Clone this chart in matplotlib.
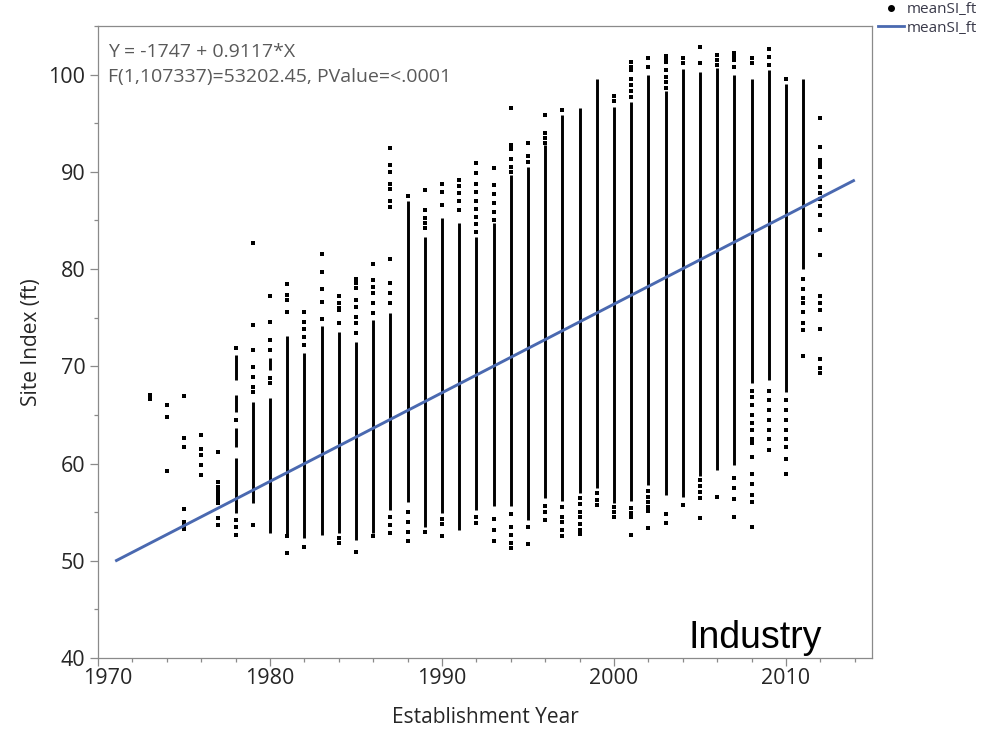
import matplotlib
matplotlib.use("Agg")
import matplotlib.pyplot as plt
from matplotlib.lines import Line2D
import matplotlib.transforms as mtransforms
from matplotlib.ticker import MultipleLocator

# ---------------- data ----------------
# dense runs of points per establishment year (drawn as solid columns)
seg_year = [1978, 1978, 1978, 1978, 1979, 1980, 1980, 1981, 1982, 1983,
            1984, 1985, 1986, 1987, 1988, 1989, 1990, 1991, 1992, 1993,
            1994, 1995, 1996, 1997, 1998, 1999, 2000, 2001, 2002, 2003,
            2004, 2005, 2006, 2007, 2008, 2009, 2010, 2011]
seg_lo = [68.6, 65.3, 61.7, 54.9, 55.9, 69.6, 52.9, 52.7, 52.3, 52.7,
          52.9, 52.1, 52.9, 55.2, 56.0, 53.5, 54.9, 53.2, 55.2, 55.6,
          55.6, 54.2, 56.5, 56.1, 57.0, 57.5, 55.9, 56.1, 57.8, 56.8,
          56.6, 58.7, 59.3, 59.9, 68.3, 68.6, 67.4, 80.0]
seg_hi = [71.2, 67.1, 63.7, 60.6, 66.3, 70.9, 66.7, 73.1, 71.4, 74.1,
          73.5, 72.5, 74.8, 75.5, 87.0, 83.3, 85.3, 84.7, 83.3, 84.7,
          89.7, 90.5, 92.8, 95.8, 96.6, 99.6, 96.7, 97.2, 100.0, 98.3,
          100.6, 100.3, 100.7, 100.0, 99.5, 100.5, 99.0, 99.6]

# isolated points
pt_year = ([1973] * 2 + [1974] * 3 + [1975] * 7 + [1976] * 5 + [1977] * 10 +
           [1978] * 5 + [1979] * 8 + [1980] * 6 + [1981] * 6 + [1982] * 6 +
           [1983] * 5 + [1984] * 7 + [1985] * 9 + [1986] * 7 + [1987] * 14 +
           [1988] * 5 + [1989] * 6 + [1990] * 6 + [1991] * 5 + [1992] * 11 +
           [1993] * 9 + [1994] * 11 + [1995] * 5 + [1996] * 7 + [1997] * 6 +
           [1998] * 7 + [1999] * 3 + [2000] * 5 + [2001] * 11 + [2002] * 8 +
           [2003] * 9 + [2004] * 3 + [2005] * 7 + [2006] * 4 + [2007] * 8 +
           [2008] * 16 + [2009] * 10 + [2010] * 9 + [2011] * 8 + [2012] * 20)
pt_si = [67.0, 66.6,
         66.0, 64.8, 59.2,
         66.9, 62.6, 61.7, 55.3, 54.0, 53.6, 53.3,
         62.9, 61.5, 60.9, 59.8, 58.8,
         61.2, 58.1, 57.6, 57.3, 56.9, 56.6, 56.3, 55.9, 54.4, 53.7,
         71.9, 64.5, 54.2, 53.5, 52.7,
         82.7, 74.2, 71.7, 69.9, 68.9, 67.9, 67.4, 53.7,
         77.2, 74.6, 72.7, 71.7, 68.8, 68.3,
         78.5, 77.3, 76.8, 75.6, 52.5, 50.8,
         75.6, 74.6, 73.8, 73.0, 72.2, 51.4,
         81.5, 79.7, 77.9, 76.6, 74.9,
         77.2, 76.5, 76.0, 75.8, 74.5, 52.3, 51.8,
         79.0, 78.6, 78.1, 76.8, 76.1, 75.1, 74.5, 73.4, 50.9,
         80.5, 78.9, 78.2, 77.5, 76.5, 75.5, 52.5,
         92.5, 90.7, 90.0, 88.7, 88.2, 87.0, 86.4, 81.0, 78.6, 77.5, 76.5,
         54.5, 53.7, 52.9,
         87.5, 55.0, 54.0, 53.0, 52.0,
         88.1, 86.1, 85.3, 84.7, 84.2, 53.0,
         88.7, 87.9, 86.6, 54.3, 53.8, 52.5,
         89.2, 88.5, 87.8, 87.0, 86.1,
         90.9, 89.9, 88.7, 87.9, 87.0, 86.2, 85.4, 84.6, 83.8, 54.5, 53.9,
         90.4, 88.6, 87.7, 86.8, 85.9, 85.0, 54.3, 53.2, 52.0,
         96.6, 92.8, 92.3, 91.3, 90.5, 90.0, 54.8, 53.5, 52.7, 51.8, 51.3,
         93.0, 91.6, 91.0, 53.5, 51.7,
         95.8, 94.0, 93.5, 93.0, 55.6, 55.0, 54.2,
         96.4, 55.5, 54.5, 54.0, 53.2, 52.5,
         56.5, 55.8, 55.0, 54.5, 53.8, 53.2, 52.8,
         57.0, 56.3, 55.7,
         97.8, 97.3, 55.5, 55.0, 54.5,
         101.3, 100.8, 100.5, 99.5, 98.9, 98.3, 97.7, 55.4, 54.9, 54.5, 52.7,
         101.7, 100.8, 57.2, 56.6, 56.0, 55.5, 55.1, 53.4,
         101.9, 101.5, 101.3, 100.5, 99.8, 99.2, 98.6, 54.8, 53.9,
         101.7, 101.2, 55.7,
         102.8, 101.2, 58.3, 57.7, 57.1, 56.5, 54.4,
         102.0, 101.5, 101.0, 56.6,
         102.2, 101.9, 101.5, 100.8, 58.5, 57.5, 56.4, 54.5,
         101.7, 101.2, 67.5, 66.8, 66.0, 65.0, 64.2, 63.5, 62.5, 62.1,
         60.7, 58.9, 57.9, 56.8, 56.0, 53.5,
         102.6, 101.8, 101.0, 67.5, 66.5, 65.5, 64.5, 63.5, 62.5, 61.4,
         99.5, 66.5, 65.5, 64.5, 63.5, 62.5, 61.7, 60.5, 58.9,
         79.0, 78.0, 77.0, 76.5, 75.6, 74.5, 73.7, 71.1,
         95.5, 92.6, 91.2, 90.8, 90.5, 89.5, 88.4, 87.8, 87.2, 86.5,
         85.6, 84.0, 81.4, 77.2, 76.5, 75.8, 73.8, 70.8, 69.8, 69.3]

# fitted line end points (Y = -1747 + 0.9117*X)
fit_year = [1971, 2014]
fit_si = [49.96, 89.16]

x_ticks = [1970, 1980, 1990, 2000, 2010]
y_ticks = [40, 50, 60, 70, 80, 90, 100]

eq_text = "Y = -1747 + 0.9117*X"
stat_text = "F(1,107337)=53202.45, PValue=<.0001"
legend_labels = ["meanSI_ft", "meanSI_ft"]
x_label = "Establishment Year"
y_label = "Site Index (ft)"
panel_label = "Industry"

# ---------------- figure ----------------
BLUE = "#4a69b0"
SPINE = "#8a8a8a"
FONT = ["Open Sans", "DejaVu Sans"]

fig = plt.figure(figsize=(9.84, 7.29), dpi=100)
W, H = 984, 729
ax = fig.add_axes([98 / W, 1 - 658 / H, (872 - 98) / W, (658 - 26) / H])
ax.set_xlim(1970, 2015)
ax.set_ylim(40, 105)

ax.vlines(seg_year, seg_lo, seg_hi, colors="black", linewidth=2.1, zorder=2)
ax.scatter(pt_year, pt_si, s=5, marker="s", color="black", linewidths=0, zorder=2)
ax.plot(fit_year, fit_si, color=BLUE, linewidth=2.1, zorder=3, solid_capstyle="butt")

for sp in ax.spines.values():
    sp.set_color(SPINE)
    sp.set_linewidth(0.9)

ax.set_xticks(x_ticks)
ax.set_yticks(y_ticks)
ax.xaxis.set_minor_locator(MultipleLocator(2))
ax.yaxis.set_minor_locator(MultipleLocator(5))
ax.tick_params(which="major", length=5.5, width=0.9, color=SPINE,
               labelsize=15.5, labelcolor="#262626")
ax.tick_params(which="minor", length=2.8, width=0.9, color=SPINE)
ax.tick_params(axis="x", which="major", pad=2)
ax.tick_params(axis="y", which="major", pad=3.5)
for lab in ax.get_xticklabels() + ax.get_yticklabels():
    lab.set_family(FONT)

# first x label is nudged right in the reference
first = ax.xaxis.get_major_ticks()[0].label1
first.set_transform(first.get_transform() +
                    mtransforms.ScaledTranslation(10 / 100, 0, fig.dpi_scale_trans))

ax.set_xlabel(x_label, fontsize=15, color="#262626", family=FONT, va="baseline")
ax.xaxis.set_label_coords(0.5, (658 - 723) / (658 - 26))
ax.set_ylabel(y_label, fontsize=15, color="#262626", family=FONT, va="center")
ax.yaxis.set_label_coords((32 - 98) / (872 - 98), 0.5)

ax.text((108 - 98) / 774, (658 - 57) / 632, eq_text, transform=ax.transAxes,
        fontsize=14, color="#595959", family=FONT, va="baseline", ha="left")
ax.text((108 - 98) / 774, (658 - 82) / 632, stat_text, transform=ax.transAxes,
        fontsize=14, color="#595959", family=FONT, va="baseline", ha="left")

ax.text((822 - 98) / 774, (658 - 648) / 632, panel_label, transform=ax.transAxes,
        fontsize=27, color="black", family=["Liberation Sans", "DejaVu Sans"],
        va="baseline", ha="right")

h1 = Line2D([], [], marker="o", color="black", linestyle="none", markersize=4)
h2 = Line2D([], [], color=BLUE, linewidth=2)
leg = fig.legend([h1, h2], legend_labels, loc="upper left",
                 bbox_to_anchor=(878 / W, 1 - 2 / H), frameon=False,
                 prop={"family": FONT, "size": 11}, handlelength=1.7,
                 handletextpad=0.2, labelspacing=0.25, borderpad=0,
                 borderaxespad=0)
for t in leg.get_texts():
    t.set_color("#3a3a4a")

fig.savefig("out.png", dpi=100)
